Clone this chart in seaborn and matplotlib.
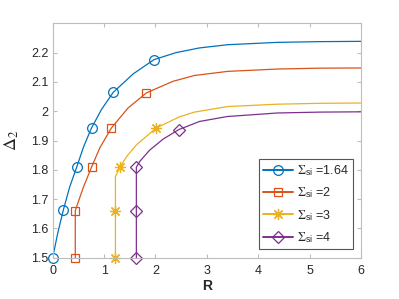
import matplotlib
matplotlib.use("Agg")
import matplotlib.pyplot as plt
from matplotlib.lines import Line2D
import seaborn as sns
import pandas as pd

# ---- data ----
labels = ["1.64", "2", "3", "4"]

blue_R = [0.0, 0.1, 0.207, 0.33, 0.465, 0.6, 0.756, 0.95, 1.176, 1.563, 1.97, 2.40, 2.855, 3.404, 4.37, 5.2, 6.0]
blue_D = [1.5, 1.585, 1.6625, 1.741, 1.808, 1.878, 1.943, 2.006, 2.064, 2.127, 2.176, 2.200, 2.216, 2.227, 2.235, 2.2375, 2.2385]
blue_mR = [0.0, 0.207, 0.465, 0.756, 1.176, 1.97]
blue_mD = [1.5, 1.6625, 1.808, 1.943, 2.064, 2.176]

red_R = [0.44, 0.44, 0.6, 0.756, 0.917, 1.143, 1.466, 1.822, 2.339, 2.758, 3.404, 4.37, 5.2, 6.0]
red_D = [1.5, 1.661, 1.742, 1.809, 1.875, 1.943, 2.011, 2.0625, 2.102, 2.122, 2.136, 2.144, 2.147, 2.1476]
red_mR = [0.44, 0.44, 0.756, 1.143, 1.822]
red_mD = [1.5, 1.661, 1.809, 1.943, 2.0625]

yel_R = [1.221, 1.221, 1.221, 1.305, 1.45, 1.628, 2.016, 2.468, 2.758, 3.404, 4.37, 5.2, 6.0]
yel_D = [1.5, 1.661, 1.776, 1.809, 1.848, 1.885, 1.943, 1.981, 1.997, 2.016, 2.024, 2.027, 2.028]
yel_mR = [1.221, 1.221, 1.305, 2.016]
yel_mD = [1.5, 1.661, 1.809, 1.943]

pur_R = [1.628, 1.628, 1.628, 1.70, 1.886, 2.15, 2.455, 2.855, 3.40, 4.37, 5.2, 6.0]
pur_D = [1.5, 1.661, 1.809, 1.830, 1.867, 1.905, 1.9375, 1.965, 1.982, 1.994, 1.997, 1.998]
pur_mR = [1.628, 1.628, 1.628, 2.455]
pur_mD = [1.5, 1.661, 1.809, 1.9375]

x_ticks = [0, 1, 2, 3, 4, 5, 6]
y_ticks = [1.5, 1.6, 1.7, 1.8, 1.9, 2.0, 2.1, 2.2]
y_ticklabels = ["1.5", "1.6", "1.7", "1.8", "1.9", "2", "2.1", "2.2"]

# ---- style ----
sns.set_style("white")
plt.rcParams["font.family"] = ["Liberation Sans", "DejaVu Sans"]
plt.rcParams["mathtext.fontset"] = "custom"
plt.rcParams["mathtext.rm"] = "STIXGeneral"
plt.rcParams["mathtext.it"] = "STIXGeneral:italic"
plt.rcParams["mathtext.bf"] = "STIXGeneral:bold"
plt.rcParams["mathtext.sf"] = "Liberation Sans"

colors = ["#0072BD", "#D95319", "#EDB120", "#7E2F8E"]
markers = ["o", "s", (8, 2, 0), "D"]
msizes = [7, 6, 8, 6]

series = [
    (blue_R, blue_D, blue_mR, blue_mD),
    (red_R, red_D, red_mR, red_mD),
    (yel_R, yel_D, yel_mR, yel_mD),
    (pur_R, pur_D, pur_mR, pur_mD),
]

fig = plt.figure(figsize=(3.99, 2.99), dpi=100)
ax = fig.add_axes([0.132, 0.138, 0.773, 0.784])

handles = []
for (R, D, mR, mD), c, m, ms, lab in zip(series, colors, markers, msizes, labels):
    df = pd.DataFrame({"R": R, "D": D})
    sns.lineplot(data=df, x="R", y="D", sort=False, estimator=None,
                 color=c, lw=0.9, ax=ax)
    dm = pd.DataFrame({"R": mR, "D": mD})
    sns.lineplot(data=dm, x="R", y="D", sort=False, estimator=None,
                 color=c, linestyle="", marker=m, markersize=ms,
                 markerfacecolor="none", markeredgecolor=c, markeredgewidth=0.9,
                 clip_on=False, ax=ax)
    handles.append(Line2D([], [], color=c, lw=1.4, marker=m, markersize=ms,
                          markerfacecolor="none", markeredgecolor=c,
                          markeredgewidth=0.9,
                          label=r"$\Sigma_{\mathsf{si}}$ =" + lab))

ax.set_xlim(0, 6)
ax.set_ylim(1.5, 2.3)
ax.set_xticks(x_ticks)
ax.set_xticklabels([str(t) for t in x_ticks])
ax.set_yticks(y_ticks)
ax.set_yticklabels(y_ticklabels)

spine_c = "#BDBDBD"
for s in ax.spines.values():
    s.set_visible(True)
    s.set_color(spine_c)
    s.set_linewidth(0.8)
ax.tick_params(axis="both", which="both", direction="in", length=3,
               width=0.8, color=spine_c, labelcolor="#262626", labelsize=9,
               top=True, right=True, bottom=True, left=True)
ax.tick_params(axis="x", pad=5)
ax.tick_params(axis="y", pad=3)

ax.set_xlabel("R", fontsize=10, fontweight="bold", color="#262626", labelpad=2)
ax.set_ylabel(r"$\Delta_2$", fontsize=13, color="#262626", labelpad=7)

leg = ax.legend(handles=handles, loc="lower right", bbox_to_anchor=(0.974, 0.036),
                borderaxespad=0, fontsize=9, frameon=True, fancybox=False,
                handlelength=2.4, handletextpad=0.3, labelspacing=0.6,
                borderpad=0.35)
leg.get_frame().set_edgecolor("#555555")
leg.get_frame().set_linewidth(0.8)
leg.get_frame().set_alpha(1)
for t in leg.get_texts():
    t.set_color("#262626")

fig.savefig("out.png", dpi=100)
